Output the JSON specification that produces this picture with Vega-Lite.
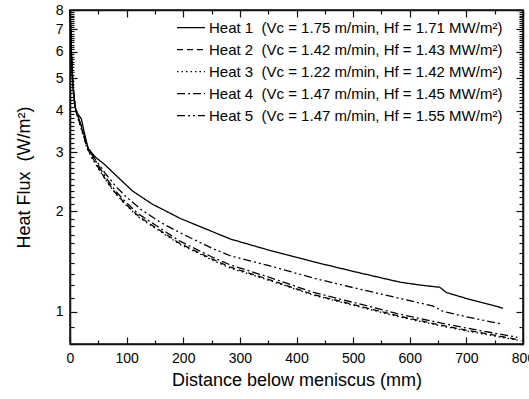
{
  "$schema": "https://vega.github.io/schema/vega-lite/v6.json",
  "width": 453,
  "height": 334,
  "autosize": "none",
  "padding": {"left": 70, "top": 10, "right": 6, "bottom": 55},
  "config": {
    "view": {"stroke": "#111111", "strokeWidth": 1.5},
    "font": "Liberation Sans",
    "axis": {
      "grid": false,
      "domain": true,
      "domainColor": "#111111",
      "domainWidth": 1.5,
      "tickColor": "#111111",
      "tickWidth": 1.2,
      "labelColor": "black",
      "labelFont": "Liberation Sans",
      "labelFontSize": 14,
      "labelFlush": false,
      "labelOverlap": false,
      "titleFont": "Liberation Sans",
      "titleFontSize": 18,
      "titleFontWeight": "normal",
      "titleColor": "black"
    }
  },
  "datasets": {
    "curves": [
      {"s": "Heat 1\u00a0 (Vc = 1.75 m/min, Hf = 1.71 MW/m²)", "d": 0, "q": 8.0},
      {"s": "Heat 1\u00a0 (Vc = 1.75 m/min, Hf = 1.71 MW/m²)", "d": 1, "q": 7.2},
      {"s": "Heat 1\u00a0 (Vc = 1.75 m/min, Hf = 1.71 MW/m²)", "d": 2, "q": 6.3},
      {"s": "Heat 1\u00a0 (Vc = 1.75 m/min, Hf = 1.71 MW/m²)", "d": 3, "q": 5.7},
      {"s": "Heat 1\u00a0 (Vc = 1.75 m/min, Hf = 1.71 MW/m²)", "d": 4, "q": 5.2},
      {"s": "Heat 1\u00a0 (Vc = 1.75 m/min, Hf = 1.71 MW/m²)", "d": 5, "q": 4.8},
      {"s": "Heat 1\u00a0 (Vc = 1.75 m/min, Hf = 1.71 MW/m²)", "d": 7, "q": 4.4},
      {"s": "Heat 1\u00a0 (Vc = 1.75 m/min, Hf = 1.71 MW/m²)", "d": 10, "q": 4.0},
      {"s": "Heat 1\u00a0 (Vc = 1.75 m/min, Hf = 1.71 MW/m²)", "d": 14, "q": 3.9},
      {"s": "Heat 1\u00a0 (Vc = 1.75 m/min, Hf = 1.71 MW/m²)", "d": 20, "q": 3.78},
      {"s": "Heat 1\u00a0 (Vc = 1.75 m/min, Hf = 1.71 MW/m²)", "d": 25, "q": 3.45},
      {"s": "Heat 1\u00a0 (Vc = 1.75 m/min, Hf = 1.71 MW/m²)", "d": 32, "q": 3.08},
      {"s": "Heat 1\u00a0 (Vc = 1.75 m/min, Hf = 1.71 MW/m²)", "d": 45, "q": 2.9},
      {"s": "Heat 1\u00a0 (Vc = 1.75 m/min, Hf = 1.71 MW/m²)", "d": 62, "q": 2.75},
      {"s": "Heat 1\u00a0 (Vc = 1.75 m/min, Hf = 1.71 MW/m²)", "d": 80, "q": 2.57},
      {"s": "Heat 1\u00a0 (Vc = 1.75 m/min, Hf = 1.71 MW/m²)", "d": 110, "q": 2.3},
      {"s": "Heat 1\u00a0 (Vc = 1.75 m/min, Hf = 1.71 MW/m²)", "d": 145, "q": 2.1},
      {"s": "Heat 1\u00a0 (Vc = 1.75 m/min, Hf = 1.71 MW/m²)", "d": 195, "q": 1.9},
      {"s": "Heat 1\u00a0 (Vc = 1.75 m/min, Hf = 1.71 MW/m²)", "d": 250, "q": 1.74},
      {"s": "Heat 1\u00a0 (Vc = 1.75 m/min, Hf = 1.71 MW/m²)", "d": 283, "q": 1.65},
      {"s": "Heat 1\u00a0 (Vc = 1.75 m/min, Hf = 1.71 MW/m²)", "d": 350, "q": 1.53},
      {"s": "Heat 1\u00a0 (Vc = 1.75 m/min, Hf = 1.71 MW/m²)", "d": 430, "q": 1.41},
      {"s": "Heat 1\u00a0 (Vc = 1.75 m/min, Hf = 1.71 MW/m²)", "d": 500, "q": 1.32},
      {"s": "Heat 1\u00a0 (Vc = 1.75 m/min, Hf = 1.71 MW/m²)", "d": 583, "q": 1.225},
      {"s": "Heat 1\u00a0 (Vc = 1.75 m/min, Hf = 1.71 MW/m²)", "d": 620, "q": 1.2},
      {"s": "Heat 1\u00a0 (Vc = 1.75 m/min, Hf = 1.71 MW/m²)", "d": 653, "q": 1.183},
      {"s": "Heat 1\u00a0 (Vc = 1.75 m/min, Hf = 1.71 MW/m²)", "d": 665, "q": 1.14},
      {"s": "Heat 1\u00a0 (Vc = 1.75 m/min, Hf = 1.71 MW/m²)", "d": 700, "q": 1.095},
      {"s": "Heat 1\u00a0 (Vc = 1.75 m/min, Hf = 1.71 MW/m²)", "d": 765, "q": 1.024},
      {"s": "Heat 2\u00a0 (Vc = 1.42 m/min, Hf = 1.43 MW/m²)", "d": 0, "q": 8.0},
      {"s": "Heat 2\u00a0 (Vc = 1.42 m/min, Hf = 1.43 MW/m²)", "d": 1, "q": 7.1},
      {"s": "Heat 2\u00a0 (Vc = 1.42 m/min, Hf = 1.43 MW/m²)", "d": 2, "q": 6.2},
      {"s": "Heat 2\u00a0 (Vc = 1.42 m/min, Hf = 1.43 MW/m²)", "d": 3, "q": 5.6},
      {"s": "Heat 2\u00a0 (Vc = 1.42 m/min, Hf = 1.43 MW/m²)", "d": 4, "q": 5.1},
      {"s": "Heat 2\u00a0 (Vc = 1.42 m/min, Hf = 1.43 MW/m²)", "d": 5, "q": 4.8},
      {"s": "Heat 2\u00a0 (Vc = 1.42 m/min, Hf = 1.43 MW/m²)", "d": 7, "q": 4.4},
      {"s": "Heat 2\u00a0 (Vc = 1.42 m/min, Hf = 1.43 MW/m²)", "d": 10, "q": 4.0},
      {"s": "Heat 2\u00a0 (Vc = 1.42 m/min, Hf = 1.43 MW/m²)", "d": 14, "q": 3.8},
      {"s": "Heat 2\u00a0 (Vc = 1.42 m/min, Hf = 1.43 MW/m²)", "d": 20, "q": 3.55},
      {"s": "Heat 2\u00a0 (Vc = 1.42 m/min, Hf = 1.43 MW/m²)", "d": 30, "q": 3.1},
      {"s": "Heat 2\u00a0 (Vc = 1.42 m/min, Hf = 1.43 MW/m²)", "d": 38, "q": 2.92},
      {"s": "Heat 2\u00a0 (Vc = 1.42 m/min, Hf = 1.43 MW/m²)", "d": 50, "q": 2.7},
      {"s": "Heat 2\u00a0 (Vc = 1.42 m/min, Hf = 1.43 MW/m²)", "d": 62, "q": 2.5},
      {"s": "Heat 2\u00a0 (Vc = 1.42 m/min, Hf = 1.43 MW/m²)", "d": 80, "q": 2.27},
      {"s": "Heat 2\u00a0 (Vc = 1.42 m/min, Hf = 1.43 MW/m²)", "d": 97, "q": 2.11},
      {"s": "Heat 2\u00a0 (Vc = 1.42 m/min, Hf = 1.43 MW/m²)", "d": 121, "q": 1.93},
      {"s": "Heat 2\u00a0 (Vc = 1.42 m/min, Hf = 1.43 MW/m²)", "d": 150, "q": 1.79},
      {"s": "Heat 2\u00a0 (Vc = 1.42 m/min, Hf = 1.43 MW/m²)", "d": 194, "q": 1.6},
      {"s": "Heat 2\u00a0 (Vc = 1.42 m/min, Hf = 1.43 MW/m²)", "d": 250, "q": 1.44},
      {"s": "Heat 2\u00a0 (Vc = 1.42 m/min, Hf = 1.43 MW/m²)", "d": 283, "q": 1.36},
      {"s": "Heat 2\u00a0 (Vc = 1.42 m/min, Hf = 1.43 MW/m²)", "d": 350, "q": 1.25},
      {"s": "Heat 2\u00a0 (Vc = 1.42 m/min, Hf = 1.43 MW/m²)", "d": 430, "q": 1.125},
      {"s": "Heat 2\u00a0 (Vc = 1.42 m/min, Hf = 1.43 MW/m²)", "d": 500, "q": 1.05},
      {"s": "Heat 2\u00a0 (Vc = 1.42 m/min, Hf = 1.43 MW/m²)", "d": 583, "q": 0.968},
      {"s": "Heat 2\u00a0 (Vc = 1.42 m/min, Hf = 1.43 MW/m²)", "d": 650, "q": 0.915},
      {"s": "Heat 2\u00a0 (Vc = 1.42 m/min, Hf = 1.43 MW/m²)", "d": 700, "q": 0.88},
      {"s": "Heat 2\u00a0 (Vc = 1.42 m/min, Hf = 1.43 MW/m²)", "d": 750, "q": 0.85},
      {"s": "Heat 2\u00a0 (Vc = 1.42 m/min, Hf = 1.43 MW/m²)", "d": 790, "q": 0.825},
      {"s": "Heat 3\u00a0 (Vc = 1.22 m/min, Hf = 1.42 MW/m²)", "d": 0, "q": 7.9},
      {"s": "Heat 3\u00a0 (Vc = 1.22 m/min, Hf = 1.42 MW/m²)", "d": 1, "q": 7.0},
      {"s": "Heat 3\u00a0 (Vc = 1.22 m/min, Hf = 1.42 MW/m²)", "d": 2, "q": 6.2},
      {"s": "Heat 3\u00a0 (Vc = 1.22 m/min, Hf = 1.42 MW/m²)", "d": 3, "q": 5.6},
      {"s": "Heat 3\u00a0 (Vc = 1.22 m/min, Hf = 1.42 MW/m²)", "d": 4, "q": 5.1},
      {"s": "Heat 3\u00a0 (Vc = 1.22 m/min, Hf = 1.42 MW/m²)", "d": 5, "q": 4.75},
      {"s": "Heat 3\u00a0 (Vc = 1.22 m/min, Hf = 1.42 MW/m²)", "d": 7, "q": 4.35},
      {"s": "Heat 3\u00a0 (Vc = 1.22 m/min, Hf = 1.42 MW/m²)", "d": 10, "q": 3.98},
      {"s": "Heat 3\u00a0 (Vc = 1.22 m/min, Hf = 1.42 MW/m²)", "d": 14, "q": 3.78},
      {"s": "Heat 3\u00a0 (Vc = 1.22 m/min, Hf = 1.42 MW/m²)", "d": 20, "q": 3.52},
      {"s": "Heat 3\u00a0 (Vc = 1.22 m/min, Hf = 1.42 MW/m²)", "d": 30, "q": 3.08},
      {"s": "Heat 3\u00a0 (Vc = 1.22 m/min, Hf = 1.42 MW/m²)", "d": 38, "q": 2.9},
      {"s": "Heat 3\u00a0 (Vc = 1.22 m/min, Hf = 1.42 MW/m²)", "d": 50, "q": 2.68},
      {"s": "Heat 3\u00a0 (Vc = 1.22 m/min, Hf = 1.42 MW/m²)", "d": 62, "q": 2.49},
      {"s": "Heat 3\u00a0 (Vc = 1.22 m/min, Hf = 1.42 MW/m²)", "d": 80, "q": 2.26},
      {"s": "Heat 3\u00a0 (Vc = 1.22 m/min, Hf = 1.42 MW/m²)", "d": 97, "q": 2.1},
      {"s": "Heat 3\u00a0 (Vc = 1.22 m/min, Hf = 1.42 MW/m²)", "d": 121, "q": 1.92},
      {"s": "Heat 3\u00a0 (Vc = 1.22 m/min, Hf = 1.42 MW/m²)", "d": 150, "q": 1.78},
      {"s": "Heat 3\u00a0 (Vc = 1.22 m/min, Hf = 1.42 MW/m²)", "d": 194, "q": 1.59},
      {"s": "Heat 3\u00a0 (Vc = 1.22 m/min, Hf = 1.42 MW/m²)", "d": 250, "q": 1.43},
      {"s": "Heat 3\u00a0 (Vc = 1.22 m/min, Hf = 1.42 MW/m²)", "d": 283, "q": 1.35},
      {"s": "Heat 3\u00a0 (Vc = 1.22 m/min, Hf = 1.42 MW/m²)", "d": 350, "q": 1.243},
      {"s": "Heat 3\u00a0 (Vc = 1.22 m/min, Hf = 1.42 MW/m²)", "d": 430, "q": 1.12},
      {"s": "Heat 3\u00a0 (Vc = 1.22 m/min, Hf = 1.42 MW/m²)", "d": 500, "q": 1.045},
      {"s": "Heat 3\u00a0 (Vc = 1.22 m/min, Hf = 1.42 MW/m²)", "d": 583, "q": 0.963},
      {"s": "Heat 3\u00a0 (Vc = 1.22 m/min, Hf = 1.42 MW/m²)", "d": 650, "q": 0.91},
      {"s": "Heat 3\u00a0 (Vc = 1.22 m/min, Hf = 1.42 MW/m²)", "d": 700, "q": 0.876},
      {"s": "Heat 3\u00a0 (Vc = 1.22 m/min, Hf = 1.42 MW/m²)", "d": 750, "q": 0.845},
      {"s": "Heat 3\u00a0 (Vc = 1.22 m/min, Hf = 1.42 MW/m²)", "d": 797, "q": 0.818},
      {"s": "Heat 4\u00a0 (Vc = 1.47 m/min, Hf = 1.45 MW/m²)", "d": 0, "q": 8.0},
      {"s": "Heat 4\u00a0 (Vc = 1.47 m/min, Hf = 1.45 MW/m²)", "d": 1, "q": 7.2},
      {"s": "Heat 4\u00a0 (Vc = 1.47 m/min, Hf = 1.45 MW/m²)", "d": 2, "q": 6.3},
      {"s": "Heat 4\u00a0 (Vc = 1.47 m/min, Hf = 1.45 MW/m²)", "d": 3, "q": 5.7},
      {"s": "Heat 4\u00a0 (Vc = 1.47 m/min, Hf = 1.45 MW/m²)", "d": 4, "q": 5.2},
      {"s": "Heat 4\u00a0 (Vc = 1.47 m/min, Hf = 1.45 MW/m²)", "d": 5, "q": 4.85},
      {"s": "Heat 4\u00a0 (Vc = 1.47 m/min, Hf = 1.45 MW/m²)", "d": 7, "q": 4.45},
      {"s": "Heat 4\u00a0 (Vc = 1.47 m/min, Hf = 1.45 MW/m²)", "d": 10, "q": 4.05},
      {"s": "Heat 4\u00a0 (Vc = 1.47 m/min, Hf = 1.45 MW/m²)", "d": 14, "q": 3.85},
      {"s": "Heat 4\u00a0 (Vc = 1.47 m/min, Hf = 1.45 MW/m²)", "d": 20, "q": 3.6},
      {"s": "Heat 4\u00a0 (Vc = 1.47 m/min, Hf = 1.45 MW/m²)", "d": 30, "q": 3.14},
      {"s": "Heat 4\u00a0 (Vc = 1.47 m/min, Hf = 1.45 MW/m²)", "d": 38, "q": 2.96},
      {"s": "Heat 4\u00a0 (Vc = 1.47 m/min, Hf = 1.45 MW/m²)", "d": 50, "q": 2.74},
      {"s": "Heat 4\u00a0 (Vc = 1.47 m/min, Hf = 1.45 MW/m²)", "d": 62, "q": 2.54},
      {"s": "Heat 4\u00a0 (Vc = 1.47 m/min, Hf = 1.45 MW/m²)", "d": 80, "q": 2.3},
      {"s": "Heat 4\u00a0 (Vc = 1.47 m/min, Hf = 1.45 MW/m²)", "d": 97, "q": 2.14},
      {"s": "Heat 4\u00a0 (Vc = 1.47 m/min, Hf = 1.45 MW/m²)", "d": 121, "q": 1.96},
      {"s": "Heat 4\u00a0 (Vc = 1.47 m/min, Hf = 1.45 MW/m²)", "d": 150, "q": 1.82},
      {"s": "Heat 4\u00a0 (Vc = 1.47 m/min, Hf = 1.45 MW/m²)", "d": 194, "q": 1.625},
      {"s": "Heat 4\u00a0 (Vc = 1.47 m/min, Hf = 1.45 MW/m²)", "d": 250, "q": 1.46},
      {"s": "Heat 4\u00a0 (Vc = 1.47 m/min, Hf = 1.45 MW/m²)", "d": 283, "q": 1.38},
      {"s": "Heat 4\u00a0 (Vc = 1.47 m/min, Hf = 1.45 MW/m²)", "d": 350, "q": 1.27},
      {"s": "Heat 4\u00a0 (Vc = 1.47 m/min, Hf = 1.45 MW/m²)", "d": 430, "q": 1.142},
      {"s": "Heat 4\u00a0 (Vc = 1.47 m/min, Hf = 1.45 MW/m²)", "d": 500, "q": 1.066},
      {"s": "Heat 4\u00a0 (Vc = 1.47 m/min, Hf = 1.45 MW/m²)", "d": 583, "q": 0.982},
      {"s": "Heat 4\u00a0 (Vc = 1.47 m/min, Hf = 1.45 MW/m²)", "d": 650, "q": 0.928},
      {"s": "Heat 4\u00a0 (Vc = 1.47 m/min, Hf = 1.45 MW/m²)", "d": 700, "q": 0.893},
      {"s": "Heat 4\u00a0 (Vc = 1.47 m/min, Hf = 1.45 MW/m²)", "d": 750, "q": 0.862},
      {"s": "Heat 4\u00a0 (Vc = 1.47 m/min, Hf = 1.45 MW/m²)", "d": 790, "q": 0.838},
      {"s": "Heat 5\u00a0 (Vc = 1.47 m/min, Hf = 1.55 MW/m²)", "d": 0, "q": 8.0},
      {"s": "Heat 5\u00a0 (Vc = 1.47 m/min, Hf = 1.55 MW/m²)", "d": 1, "q": 7.2},
      {"s": "Heat 5\u00a0 (Vc = 1.47 m/min, Hf = 1.55 MW/m²)", "d": 2, "q": 6.3},
      {"s": "Heat 5\u00a0 (Vc = 1.47 m/min, Hf = 1.55 MW/m²)", "d": 3, "q": 5.7},
      {"s": "Heat 5\u00a0 (Vc = 1.47 m/min, Hf = 1.55 MW/m²)", "d": 4, "q": 5.2},
      {"s": "Heat 5\u00a0 (Vc = 1.47 m/min, Hf = 1.55 MW/m²)", "d": 5, "q": 4.8},
      {"s": "Heat 5\u00a0 (Vc = 1.47 m/min, Hf = 1.55 MW/m²)", "d": 7, "q": 4.4},
      {"s": "Heat 5\u00a0 (Vc = 1.47 m/min, Hf = 1.55 MW/m²)", "d": 10, "q": 4.0},
      {"s": "Heat 5\u00a0 (Vc = 1.47 m/min, Hf = 1.55 MW/m²)", "d": 14, "q": 3.85},
      {"s": "Heat 5\u00a0 (Vc = 1.47 m/min, Hf = 1.55 MW/m²)", "d": 20, "q": 3.6},
      {"s": "Heat 5\u00a0 (Vc = 1.47 m/min, Hf = 1.55 MW/m²)", "d": 30, "q": 3.15},
      {"s": "Heat 5\u00a0 (Vc = 1.47 m/min, Hf = 1.55 MW/m²)", "d": 45, "q": 2.85},
      {"s": "Heat 5\u00a0 (Vc = 1.47 m/min, Hf = 1.55 MW/m²)", "d": 62, "q": 2.6},
      {"s": "Heat 5\u00a0 (Vc = 1.47 m/min, Hf = 1.55 MW/m²)", "d": 80, "q": 2.38},
      {"s": "Heat 5\u00a0 (Vc = 1.47 m/min, Hf = 1.55 MW/m²)", "d": 100, "q": 2.2},
      {"s": "Heat 5\u00a0 (Vc = 1.47 m/min, Hf = 1.55 MW/m²)", "d": 126, "q": 2.02},
      {"s": "Heat 5\u00a0 (Vc = 1.47 m/min, Hf = 1.55 MW/m²)", "d": 160, "q": 1.85},
      {"s": "Heat 5\u00a0 (Vc = 1.47 m/min, Hf = 1.55 MW/m²)", "d": 195, "q": 1.72},
      {"s": "Heat 5\u00a0 (Vc = 1.47 m/min, Hf = 1.55 MW/m²)", "d": 250, "q": 1.55},
      {"s": "Heat 5\u00a0 (Vc = 1.47 m/min, Hf = 1.55 MW/m²)", "d": 283, "q": 1.47},
      {"s": "Heat 5\u00a0 (Vc = 1.47 m/min, Hf = 1.55 MW/m²)", "d": 350, "q": 1.375},
      {"s": "Heat 5\u00a0 (Vc = 1.47 m/min, Hf = 1.55 MW/m²)", "d": 430, "q": 1.26},
      {"s": "Heat 5\u00a0 (Vc = 1.47 m/min, Hf = 1.55 MW/m²)", "d": 500, "q": 1.18},
      {"s": "Heat 5\u00a0 (Vc = 1.47 m/min, Hf = 1.55 MW/m²)", "d": 583, "q": 1.095},
      {"s": "Heat 5\u00a0 (Vc = 1.47 m/min, Hf = 1.55 MW/m²)", "d": 640, "q": 1.04},
      {"s": "Heat 5\u00a0 (Vc = 1.47 m/min, Hf = 1.55 MW/m²)", "d": 650, "q": 1.02},
      {"s": "Heat 5\u00a0 (Vc = 1.47 m/min, Hf = 1.55 MW/m²)", "d": 660, "q": 1.0},
      {"s": "Heat 5\u00a0 (Vc = 1.47 m/min, Hf = 1.55 MW/m²)", "d": 700, "q": 0.965},
      {"s": "Heat 5\u00a0 (Vc = 1.47 m/min, Hf = 1.55 MW/m²)", "d": 760, "q": 0.92}
    ]
  },
  "data": {"name": "curves"},
  "resolve": {"axis": {"x": "independent", "y": "independent"}},
  "layer": [
    {
      "mark": {"type": "line", "color": "black", "strokeWidth": 1.3},
      "encoding": {
        "x": {
          "field": "d", "type": "quantitative",
          "scale": {"domain": [0, 800], "nice": false, "zero": false},
          "axis": {
            "orient": "bottom",
            "values": [0, 100, 200, 300, 400, 500, 600, 700, 800],
            "tickSize": -7,
            "labelPadding": 14,
            "title": "Distance below meniscus (mm)",
            "titlePadding": 6
          }
        },
        "y": {
          "field": "q", "type": "quantitative",
          "scale": {"type": "log", "domain": [0.8, 8], "nice": false, "zero": false},
          "axis": {
            "orient": "left",
            "values": [1, 2, 3, 4, 5, 6, 7, 8],
            "format": "d",
            "tickSize": -7,
            "labelPadding": 14,
            "title": "Heat Flux\u00a0 (W/m²)",
            "titlePadding": 22
          }
        },
        "strokeDash": {
          "field": "s", "type": "nominal",
          "scale": {"range": [[1, 0], [6, 4], [1.5, 3], [8, 3, 2, 3], [8, 3, 2, 3, 2, 3]]},
          "legend": {
            "orient": "none",
            "legendX": 106,
            "legendY": 7,
            "title": null,
            "symbolType": "stroke",
            "symbolSize": 784,
            "symbolStrokeWidth": 1.3,
            "symbolStrokeColor": "black",
            "labelFont": "Liberation Sans",
            "labelFontSize": 15,
            "labelColor": "black",
            "labelOffset": 3,
            "labelLimit": 0,
            "rowPadding": 0,
            "clipHeight": 21.3,
            "padding": 0
          }
        }
      }
    },
    {
      "mark": {"type": "point", "opacity": 0},
      "encoding": {
        "x": {"field": "d", "type": "quantitative",
          "axis": {"orient": "bottom", "values": [50, 150, 250, 350, 450, 550, 650, 750], "tickSize": -4, "labels": false, "domain": false, "title": null}},
        "y": {"field": "q", "type": "quantitative",
          "axis": {"orient": "left", "values": [0.8, 0.9, 1.1, 1.2, 1.3, 1.4, 1.5, 1.6, 1.7, 1.8, 1.9, 2.1, 2.2, 2.3, 2.4, 2.5, 2.6, 2.7, 2.8, 2.9, 3.1, 3.2, 3.3, 3.4, 3.5, 3.6, 3.7, 3.8, 3.9, 4.1, 4.2, 4.3, 4.4, 4.5, 4.6, 4.7, 4.8, 4.9, 5.1, 5.2, 5.3, 5.4, 5.5, 5.6, 5.7, 5.8, 5.9, 6.1, 6.2, 6.3, 6.4, 6.5, 6.6, 6.7, 6.8, 6.9, 7.1, 7.2, 7.3, 7.4, 7.5, 7.6, 7.7, 7.8, 7.9], "tickSize": -4, "labels": false, "domain": false, "title": null}}
      }
    },
    {
      "mark": {"type": "point", "opacity": 0},
      "encoding": {
        "x": {"field": "d", "type": "quantitative",
          "axis": {"orient": "top", "values": [0, 100, 200, 300, 400, 500, 600, 700, 800], "tickSize": -7, "labels": false, "title": null}},
        "y": {"field": "q", "type": "quantitative",
          "axis": {"orient": "right", "values": [1, 2, 3, 4, 5, 6, 7, 8], "tickSize": -7, "labels": false, "title": null}}
      }
    },
    {
      "mark": {"type": "point", "opacity": 0},
      "encoding": {
        "x": {"field": "d", "type": "quantitative",
          "axis": {"orient": "top", "values": [50, 150, 250, 350, 450, 550, 650, 750], "tickSize": -4, "labels": false, "domain": false, "title": null}},
        "y": {"field": "q", "type": "quantitative",
          "axis": {"orient": "right", "values": [0.8, 0.9, 1.1, 1.2, 1.3, 1.4, 1.5, 1.6, 1.7, 1.8, 1.9, 2.1, 2.2, 2.3, 2.4, 2.5, 2.6, 2.7, 2.8, 2.9, 3.1, 3.2, 3.3, 3.4, 3.5, 3.6, 3.7, 3.8, 3.9, 4.1, 4.2, 4.3, 4.4, 4.5, 4.6, 4.7, 4.8, 4.9, 5.1, 5.2, 5.3, 5.4, 5.5, 5.6, 5.7, 5.8, 5.9, 6.1, 6.2, 6.3, 6.4, 6.5, 6.6, 6.7, 6.8, 6.9, 7.1, 7.2, 7.3, 7.4, 7.5, 7.6, 7.7, 7.8, 7.9], "tickSize": -4, "labels": false, "domain": false, "title": null}}
      }
    }
  ]
}
